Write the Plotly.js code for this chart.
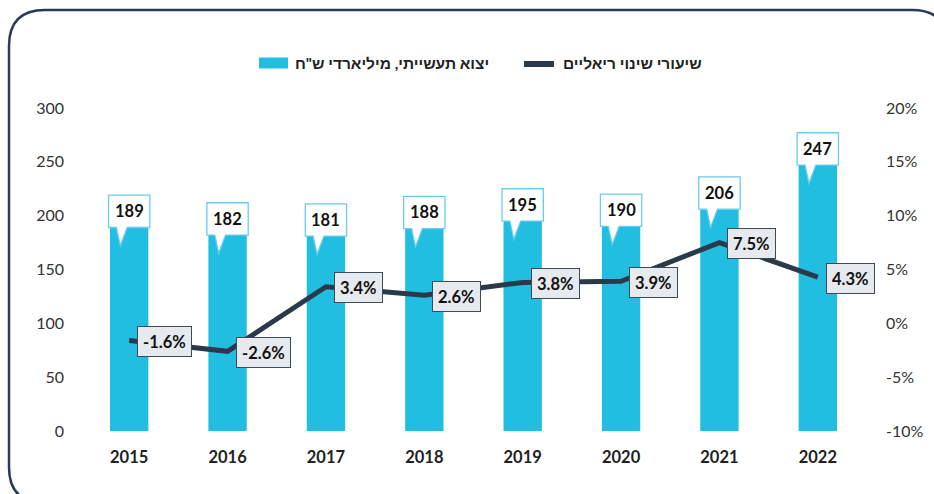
<!DOCTYPE html>
<html>
<head>
<meta charset="utf-8">
<script src="https://cdn.plot.ly/plotly-3.0.1.min.js"></script>
<style>
html,body{margin:0;padding:0;background:#fff;}
#chart{width:934px;height:494px;}
</style>
</head>
<body>
<div id="chart"></div>
<script>
// ---- data ----
const years = ['2015','2016','2017','2018','2019','2020','2021','2022'];
const exportsBn = [189, 182, 181, 188, 195, 190, 206, 247];
const realGrowth = [-1.6, -2.6, 3.4, 2.6, 3.8, 3.9, 7.5, 4.3];
const leftTickVals = [0, 50, 100, 150, 200, 250, 300];
const rightTickVals = [-10, -5, 0, 5, 10, 15, 20];
const rightTickText = rightTickVals.map(v => v + '%');
const barName = 'יצוא תעשייתי, מיליארדי ש"ח';
const lineName = 'שיעורי שינוי ריאליים';

// ---- layout constants ----
const W = 934, H = 494;
const M = {l: 80, r: 67, t: 108, b: 63};
const FONT = "Lato, 'Liberation Sans', 'DejaVu Sans', sans-serif";
const BAR_COLOR = '#22BEE2', LINE_COLOR = '#2B3A4A';
const xIdx = years.map((_, i) => i);
const pw = W - M.l - M.r, ph = H - M.t - M.b;
const px2x = p => (p - M.l) / pw;
const py2y = p => (H - M.b - p) / ph;

const bars = {
  type: 'bar', x: xIdx, y: exportsBn, name: barName,
  marker: {color: BAR_COLOR}, width: 0.39, hoverinfo: 'skip'
};
const line = {
  type: 'scatter', mode: 'lines', x: xIdx, y: realGrowth, yaxis: 'y2', name: lineName,
  line: {color: LINE_COLOR, width: 5}, hoverinfo: 'skip'
};

const shapes = [];
const annotations = [];
const boxH = 30, tailH = 17, halfW = 0.21;
exportsBn.forEach((v, i) => {
  const p = [
    [i - halfW, v], [i - 0.13, v], [i - 0.09, v - tailH], [i - 0.02, v],
    [i + halfW, v], [i + halfW, v + boxH], [i - halfW, v + boxH]
  ];
  shapes.push({
    type: 'path', xref: 'x', yref: 'y', layer: 'above',
    path: 'M' + p.map(q => q[0] + ',' + q[1]).join(' L') + ' Z',
    fillcolor: '#ffffff', line: {color: '#6CCBEB', width: 1.3}
  });
  annotations.push({
    x: i, y: v + boxH / 2, xref: 'x', yref: 'y', text: String(v), showarrow: false,
    xanchor: 'center', yanchor: 'middle',
    font: {family: FONT, size: 16.5, color: '#111', weight: 'bold'}
  });
});
realGrowth.forEach((v, i) => {
  annotations.push({
    x: i, y: v, xref: 'x', yref: 'y2', text: v.toFixed(1) + '%', showarrow: false,
    xanchor: 'left', yanchor: 'middle', xshift: 8, yshift: -1, height: 19,
    bgcolor: '#E6E9ED', bordercolor: '#3C4A58', borderwidth: 1, borderpad: 5,
    font: {family: FONT, size: 16.5, color: '#111', weight: 'bold'}
  });
});

// custom legend (top centre)
const LEG_Y = 63;
shapes.push({
  type: 'rect', xref: 'paper', yref: 'paper', layer: 'above',
  x0: px2x(259), x1: px2x(288), y0: py2y(LEG_Y + 5.5), y1: py2y(LEG_Y - 5.5),
  fillcolor: BAR_COLOR, line: {width: 0}
});
shapes.push({
  type: 'line', xref: 'paper', yref: 'paper', layer: 'above',
  x0: px2x(524), x1: px2x(554), y0: py2y(LEG_Y + 1), y1: py2y(LEG_Y + 1),
  line: {color: LINE_COLOR, width: 6}
});
annotations.push({
  x: px2x(293), y: py2y(LEG_Y), xref: 'paper', yref: 'paper', text: barName, showarrow: false,
  xanchor: 'left', yanchor: 'middle',
  font: {family: FONT, size: 15.5, color: '#222', weight: 'bold'}
});
annotations.push({
  x: px2x(561), y: py2y(LEG_Y), xref: 'paper', yref: 'paper', text: lineName, showarrow: false,
  xanchor: 'left', yanchor: 'middle',
  font: {family: FONT, size: 15.5, color: '#222', weight: 'bold'}
});

// rounded frame
const fx0 = 9, fy0 = 10, fx1 = 948, fy1 = 503, r = 36;
const P = (x, y) => px2x(x) + ',' + py2y(y);
shapes.push({
  type: 'path', xref: 'paper', yref: 'paper', layer: 'above',
  path: 'M' + P(fx0 + r, fy0) + ' L' + P(fx1 - r, fy0) + ' Q' + P(fx1, fy0) + ' ' + P(fx1, fy0 + r) +
        ' L' + P(fx1, fy1 - r) + ' Q' + P(fx1, fy1) + ' ' + P(fx1 - r, fy1) +
        ' L' + P(fx0 + r, fy1) + ' Q' + P(fx0, fy1) + ' ' + P(fx0, fy1 - r) +
        ' L' + P(fx0, fy0 + r) + ' Q' + P(fx0, fy0) + ' ' + P(fx0 + r, fy0) + ' Z',
  line: {color: '#2A3A57', width: 2.5}, fillcolor: 'rgba(0,0,0,0)'
});

const layout = {
  width: W, height: H, margin: M,
  paper_bgcolor: '#fff', plot_bgcolor: '#fff',
  font: {family: FONT, color: '#333'},
  showlegend: false,
  xaxis: {
    range: [-0.5, 7.5], tickvals: xIdx, ticktext: years, showgrid: false, zeroline: false,
    showline: false, ticks: '', ticklabelstandoff: 14,
    tickfont: {family: FONT, size: 16.5, color: '#222', weight: 'bold'}, fixedrange: true
  },
  yaxis: {
    range: [0, 300], tickvals: leftTickVals, showgrid: false, zeroline: false, showline: false,
    ticks: '', ticklabelstandoff: 15, tickfont: {family: FONT, size: 16, color: '#333'}
  },
  yaxis2: {
    range: [-10, 20], overlaying: 'y', side: 'right', tickvals: rightTickVals, ticktext: rightTickText,
    showgrid: false, zeroline: false, showline: false, ticks: '', ticklabelstandoff: 18,
    tickfont: {family: FONT, size: 16, color: '#333'}
  },
  shapes: shapes,
  annotations: annotations
};

Plotly.newPlot('chart', [bars, line], layout, {displayModeBar: false, staticPlot: true});
</script>
</body>
</html>
